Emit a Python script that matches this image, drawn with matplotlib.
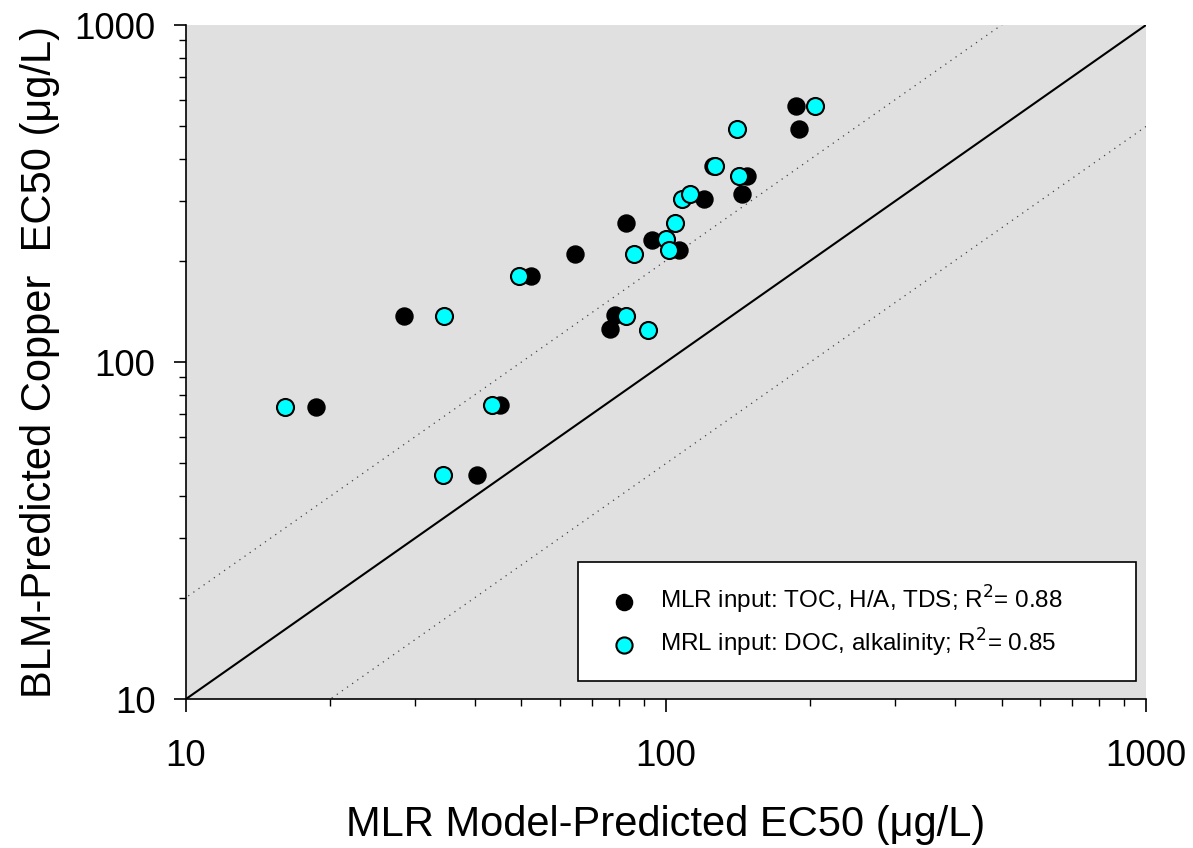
import numpy as np
import matplotlib
matplotlib.use('Agg')
import matplotlib.pyplot as plt
from matplotlib.ticker import LogLocator, NullFormatter, FixedFormatter, FixedLocator

plt.rcParams['font.family'] = ['Liberation Sans', 'DejaVu Sans']

# MLR input: TOC, H/A, TDS
mlr_toc_x = [18.7, 28.4, 40.4, 45.1, 52.4, 64.7, 76.4, 78.3, 82.5, 93.6,
             106.3, 120.2, 125.5, 143.8, 147.7, 187.0, 189.3]
mlr_toc_y = [73.5, 137.0, 46.3, 74.5, 180.0, 209.0, 125.0, 138.0, 258.0, 230.0,
             215.0, 304.0, 382.0, 314.5, 356.0, 575.0, 492.0]

# MRL input: DOC, alkalinity
mrl_doc_x = [16.1, 34.3, 34.4, 43.4, 49.4, 82.6, 85.8, 91.9, 100.0, 101.5,
             104.3, 107.8, 112.2, 126.5, 142.2, 140.3, 204.0]
mrl_doc_y = [73.5, 46.3, 137.0, 74.5, 180.0, 137.0, 209.0, 124.5, 231.0, 215.0,
             258.0, 304.0, 315.0, 382.0, 356.0, 492.0, 575.0]

label_toc = 'MLR input: TOC, H/A, TDS; R$^2$= 0.88'
label_doc = 'MRL input: DOC, alkalinity; R$^2$= 0.85'

fig = plt.figure(figsize=(11.93, 8.48), dpi=100)
ax = fig.add_axes([0.1559, 0.1757, 0.8047, 0.7948])
ax.set_facecolor('#e0e0e0')

line = np.array([1.0, 10000.0])
ax.plot(line, line, color='black', lw=1.5, zorder=1)
ax.plot(line, 2*line, color='#444444', lw=0.9, ls=(0, (1, 4)), zorder=1)
ax.plot(line, line/2, color='#444444', lw=0.9, ls=(0, (1, 4)), zorder=1)

ax.scatter(mlr_toc_x, mlr_toc_y, s=150, c='black', edgecolors='black',
           linewidths=1, zorder=3, label=label_toc)
ax.scatter(mrl_doc_x, mrl_doc_y, s=150, c='#00ffff', edgecolors='black',
           linewidths=1.5, zorder=4, label=label_doc)

ax.set_xscale('log')
ax.set_yscale('log')
ax.set_xlim(10, 1000)
ax.set_ylim(10, 1000)

for axis in (ax.xaxis, ax.yaxis):
    axis.set_major_locator(FixedLocator([10, 100, 1000]))
    axis.set_major_formatter(FixedFormatter(['10', '100', '1000']))
    axis.set_minor_locator(LogLocator(base=10, subs=np.arange(2, 10)))
    axis.set_minor_formatter(NullFormatter())

ax.tick_params(which='major', direction='out', length=9, width=1.2, labelsize=26.5)
ax.tick_params(which='minor', direction='out', length=5, width=1.0)
ax.tick_params(axis='x', which='major', pad=20)
ax.tick_params(axis='y', which='major', pad=13)

ax.spines['top'].set_visible(False)
ax.spines['right'].set_visible(False)
ax.spines['left'].set_linewidth(1.2)
ax.spines['bottom'].set_linewidth(1.2)

ax.set_xlabel('MLR Model-Predicted EC50 (\u03bcg/L)', fontsize=30, labelpad=22)
ax.set_ylabel('BLM-Predicted Copper  EC50 (\u03bcg/L)', fontsize=30, labelpad=10)

leg = ax.legend(loc='lower left', bbox_to_anchor=(0.408, 0.027, 0.582, 0.161),
                mode='expand', fontsize=17.5, frameon=True, fancybox=False,
                edgecolor='black', framealpha=1, markerscale=0.95,
                handletextpad=0.5, borderpad=0.9, labelspacing=0.45,
                borderaxespad=0)
leg.get_frame().set_linewidth(1.2)
leg.set_zorder(5)

fig.savefig('out.png', dpi=100)
